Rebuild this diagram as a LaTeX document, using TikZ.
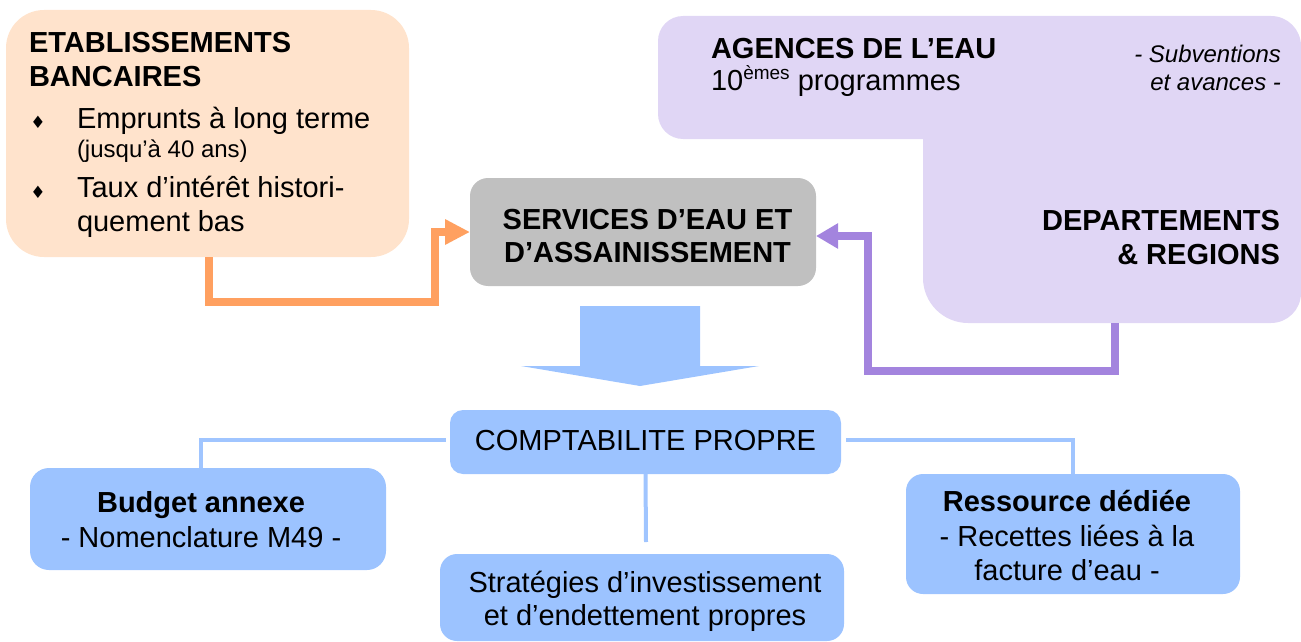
\documentclass[tikz,border=0pt]{standalone}
\usepackage{fontspec}
\setmainfont{Liberation Sans}
\newfontfamily\symfont{DejaVu Sans}
\usetikzlibrary{arrows.meta}
\definecolor{peach}{RGB}{255,227,204}
\definecolor{greybox}{RGB}{192,192,192}
\definecolor{lavender}{RGB}{224,214,245}
\definecolor{bluebox}{RGB}{156,195,255}
\definecolor{blueline}{RGB}{160,197,255}
\definecolor{orangeline}{RGB}{255,160,96}
\definecolor{purpleline}{RGB}{163,132,222}
\begin{document}
\begin{tikzpicture}[x=1pt,y=-1pt,
  shapebox/.style={inner sep=0pt, outer sep=0pt, draw=none},
  txt/.style={inner sep=0pt, outer sep=0pt, font=\fontsize{29}{34}\selectfont},
  btxt/.style={inner sep=0pt, outer sep=0pt, font=\fontsize{29}{34}\selectfont\bfseries},
  smalltxt/.style={inner sep=0pt, outer sep=0pt, font=\fontsize{24}{28}\selectfont},
  ittxt/.style={inner sep=0pt, outer sep=0pt, font=\fontsize{24}{28}\selectfont\itshape},
  bulletmark/.style={inner sep=0pt, outer sep=0pt, font=\symfont\fontsize{17}{17}\selectfont},
  oline/.style={draw=orangeline, line width=8pt, -{Triangle[length=25pt,width=24pt]}},
  pline/.style={draw=purpleline, line width=8pt, -{Triangle[length=22pt,width=24pt]}},
  bline/.style={draw=blueline, line width=4pt}
]
\useasboundingbox (0,0) rectangle (1301,642);

% purple L-shaped area
\fill[lavender] (658,114) -- (658,41) arc (180:270:25) -- (1271,16) arc (270:360:30)
  -- (1301,293) arc (0:90:30) -- (968,323) arc (90:180:45) -- (923,139) -- (683,139)
  arc (90:180:25) -- cycle;
\coordinate (pstart) at (1115,323);
\coordinate (pbend) at (868,371);

% boxes
\node[shapebox, fill=peach, rounded corners=38pt, minimum width=403pt, minimum height=247pt] (banks) at (207.5,133.5) {};
\node[shapebox, fill=greybox, rounded corners=18pt, minimum width=346pt, minimum height=108pt] (services) at (643,232) {};
\node[shapebox, fill=bluebox, rounded corners=13pt, minimum width=391pt, minimum height=64pt] (compta) at (645.5,442) {};
\node[shapebox, fill=bluebox, rounded corners=19pt, minimum width=356pt, minimum height=102pt] (budget) at (208,519) {};
\node[shapebox, fill=bluebox, rounded corners=17pt, minimum width=334pt, minimum height=120pt] (ressource) at (1073,534) {};
\node[shapebox, fill=bluebox, rounded corners=17pt, minimum width=404pt, minimum height=87pt] (strat) at (642,597.5) {};

% block arrow
\fill[bluebox] (580,306) -- (700,306) -- (700,366) -- (759,366) -- (640,386) -- (521,366) -- (580,366) -- cycle;

% connectors
\coordinate (ostart) at (209,257);
\coordinate (obend) at (435,302);
\draw[oline] (ostart) |- (obend) |- (services.west);
\draw[pline] (pstart) |- (pbend) |- ([yshift=-4pt]services.east);

\coordinate (budtop) at (201,468);
\coordinate (vend) at (646,542);
\draw[bline] ([shift={(-4,-2)}]compta.west) -| (budtop);
\draw[bline] ([shift={(5,-2)}]compta.east) -| (ressource.north);
\draw[bline] (compta.south) -- (vend);

% texts: banks
\node[btxt, anchor=base west] (t1) at (29,53) {ETABLISSEMENTS};
\node[btxt, anchor=base west] (t2) at (29,87) {BANCAIRES};
\node[bulletmark] (b1) at (38,122) {♦};
\node[txt, anchor=base west] (t3) at (77,128) {Emprunts à long terme};
\node[smalltxt, anchor=base west] (t4) at (77,157) {(jusqu’à 40 ans)};
\node[bulletmark] (b2) at (38,192) {♦};
\node[txt, anchor=base west] (t5) at (77,197) {Taux d’intérêt histori-};
\node[txt, anchor=base west] (t6) at (77,231) {quement bas};

% services
\node[btxt, anchor=base] (s1) at (647.5,229) {SERVICES D’EAU ET};
\node[btxt, anchor=base] (s2) at (647.5,262) {D’ASSAINISSEMENT};

% agences / departements
\node[btxt, anchor=base west] (a1) at (711,59) {AGENCES DE L’EAU};
\node[txt, anchor=base west] (a2) at (711,91) {10\raisebox{11pt}{\fontsize{19}{19}\selectfont èmes} programmes};
\node[ittxt, anchor=base east] (a3) at (1281,63) {- Subventions};
\node[ittxt, anchor=base east] (a4) at (1281,90) {et avances -};
\node[btxt, anchor=base east] (d1) at (1280,230) {DEPARTEMENTS};
\node[btxt, anchor=base east] (d2) at (1280,264) {\& REGIONS};

% lower boxes
\node[txt, anchor=base] (c1) at (645.5,450) {COMPTABILITE PROPRE};
\node[btxt, anchor=base] (bu1) at (201,512) {Budget annexe};
\node[txt, anchor=base] (bu2) at (201,547) {- Nomenclature M49 -};
\node[btxt, anchor=base] (r1) at (1067,511) {Ressource dédiée};
\node[txt, anchor=base] (r2) at (1067,546) {- Recettes liées à la};
\node[txt, anchor=base] (r3) at (1067,580) {facture d’eau -};
\node[txt, anchor=base] (st1) at (645,592) {Stratégies d’investissement};
\node[txt, anchor=base] (st2) at (645,625) {et d’endettement propres};
\end{tikzpicture}
\end{document}
